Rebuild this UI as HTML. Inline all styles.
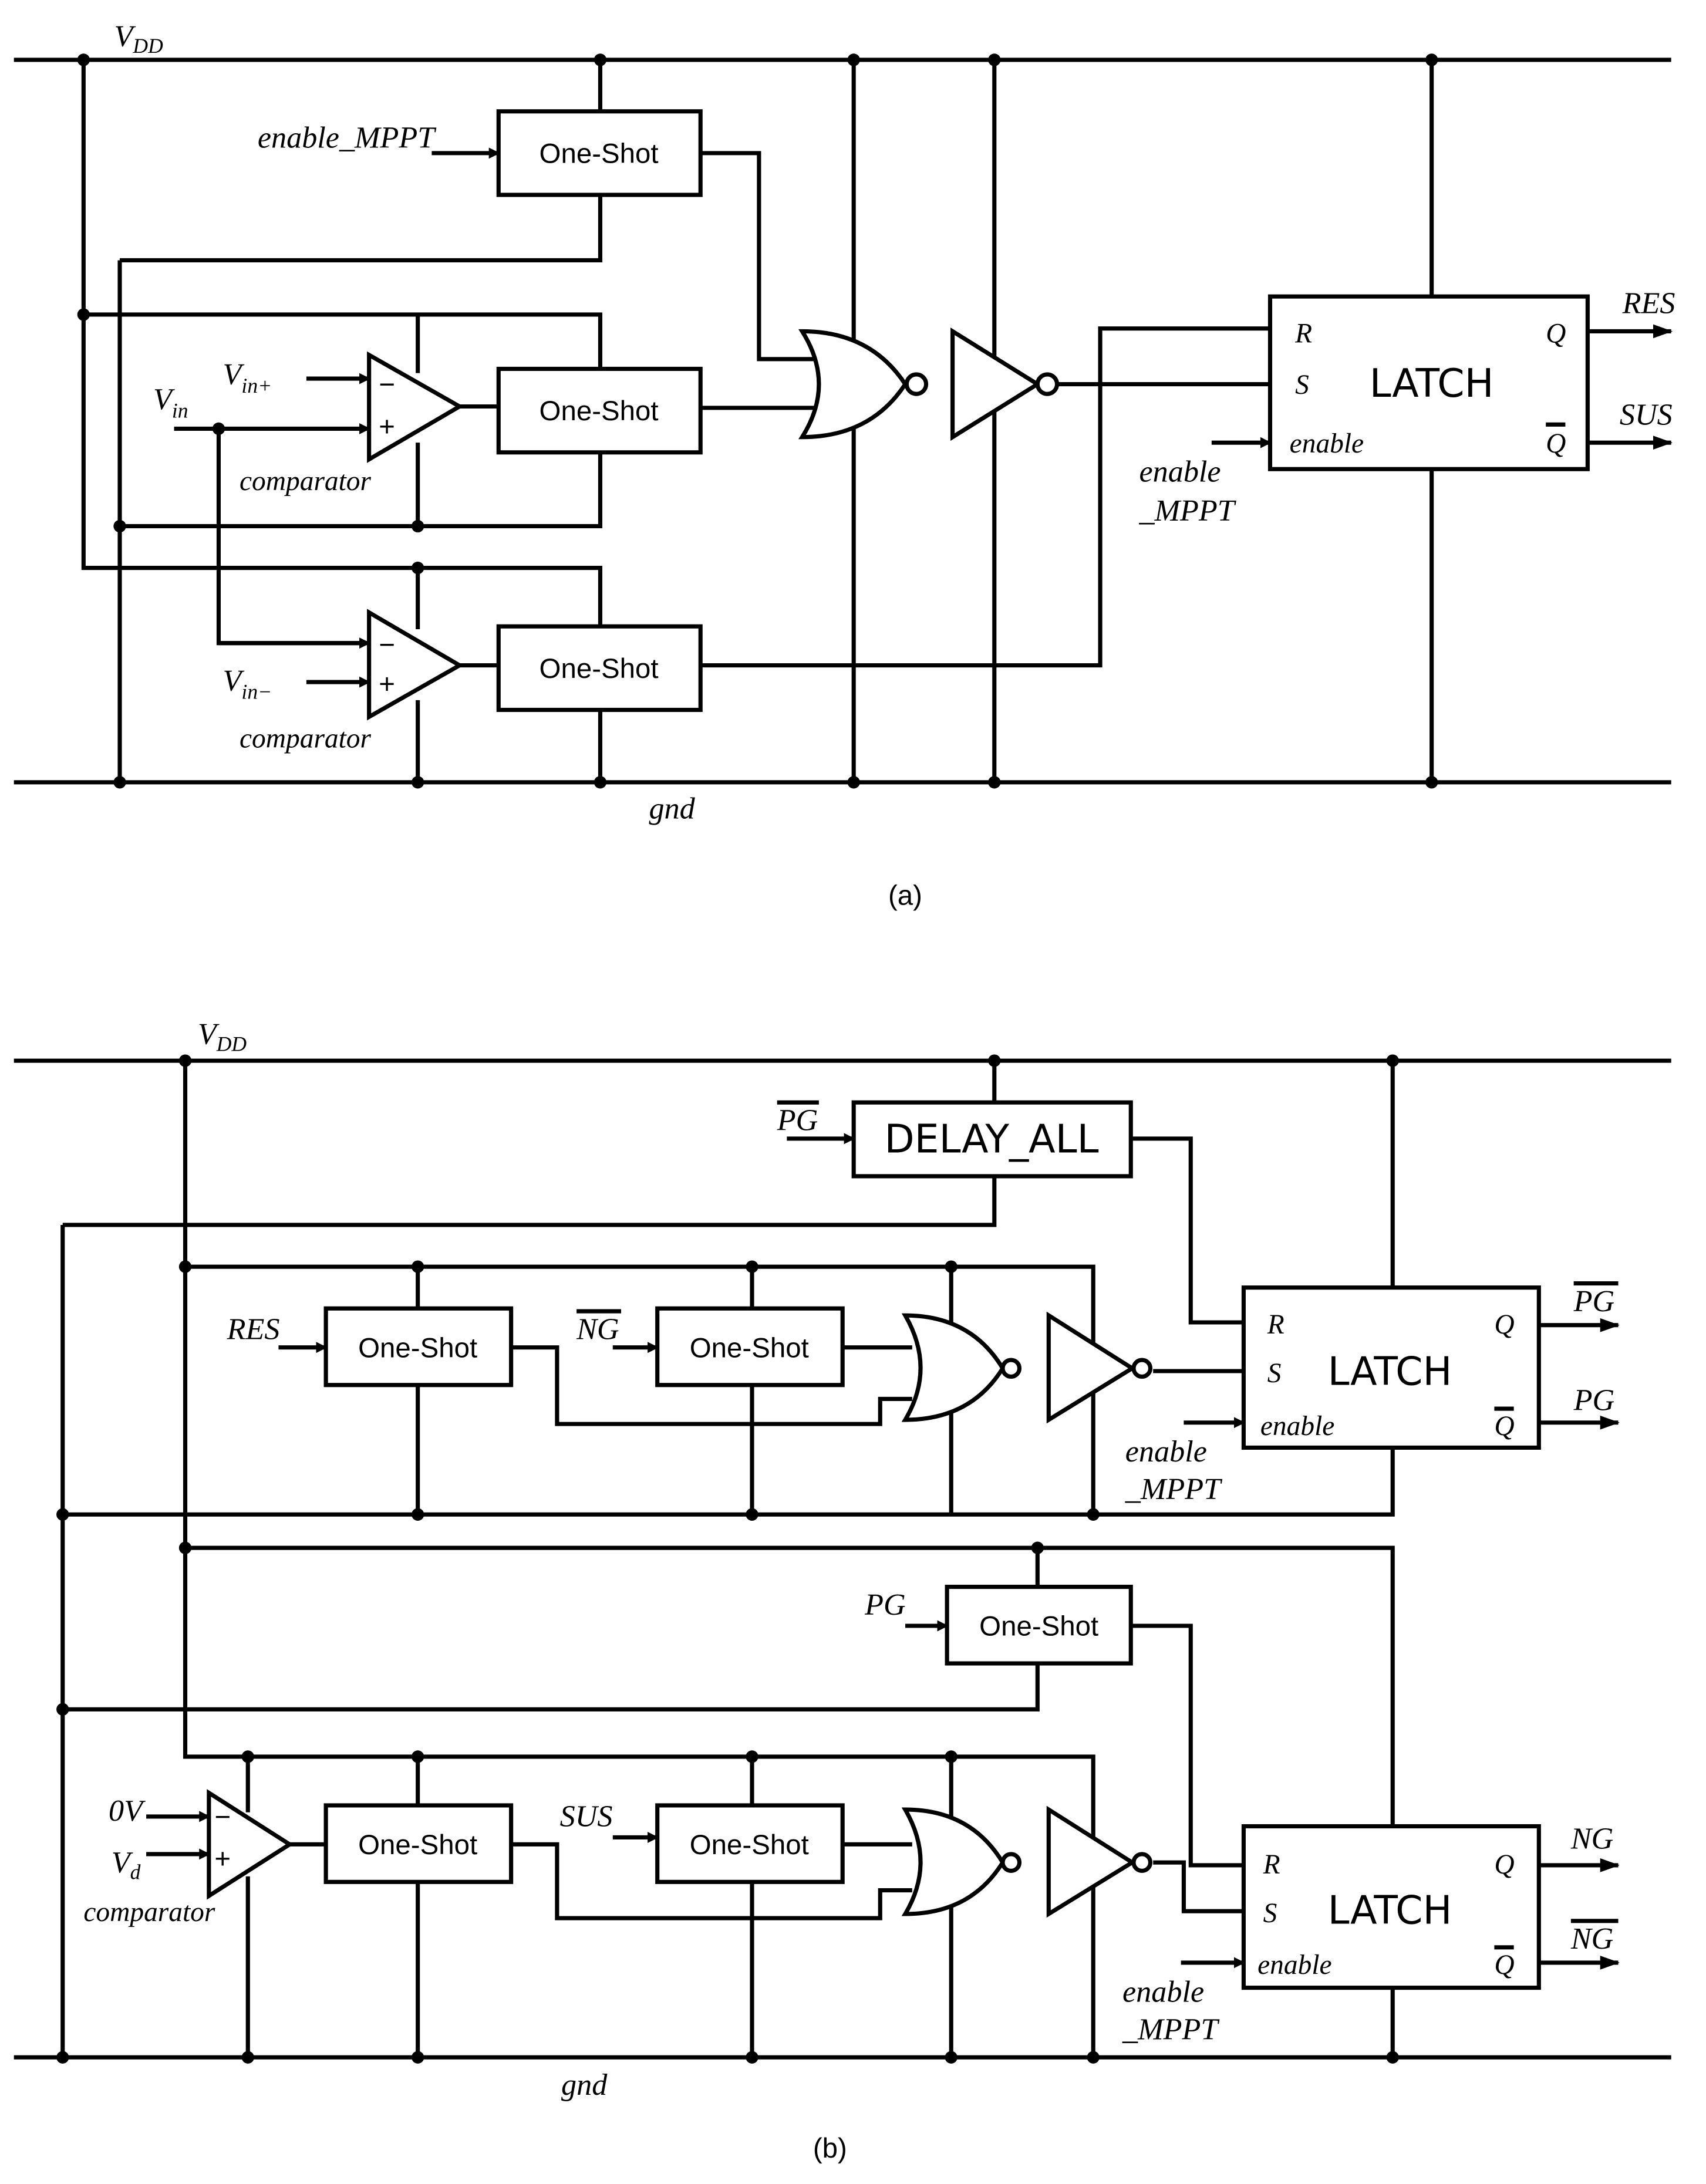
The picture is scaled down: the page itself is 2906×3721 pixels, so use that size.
<!DOCTYPE html>
<html><head><meta charset="utf-8"><style>
html,body{margin:0;padding:0;background:#fff}
svg{display:block}
.l{stroke:#000;stroke-width:3;fill:none}
.b{stroke:#000;stroke-width:3;fill:#fff}
.t{font-family:"Liberation Sans",sans-serif;font-size:20px}
.i{font-family:"Liberation Serif",serif;font-style:italic;font-size:22px}
.s{font-family:"Liberation Serif",serif;font-style:italic;font-size:20px}
.L{font-family:"DejaVu Sans","Liberation Sans",sans-serif;font-size:28px}
</style></head><body>
<svg width="2906" height="3721" viewBox="0 0 1225 1569" preserveAspectRatio="none" xmlns="http://www.w3.org/2000/svg">
<defs><marker id="a" markerWidth="8" markerHeight="8" refX="7" refY="4" orient="auto" markerUnits="userSpaceOnUse"><path d="M0,0 L8,4 L0,8 Z" fill="#000"/></marker>
<marker id="A" markerWidth="14" markerHeight="10" refX="13" refY="5" orient="auto" markerUnits="userSpaceOnUse"><path d="M0,0 L14,5 L0,10 Z" fill="#000"/></marker></defs>

<!-- ===== (a) ===== -->
<path class="l" d="M10,43H1200 M10,562H1200"/>
<text class="i" x="82" y="33">V<tspan font-size="15" dy="5">DD</tspan></text>
<text class="i" x="466" y="588">gnd</text>
<path class="l" d="M60,43V408H431V450 M60,226H431V265 M86,187V562 M86,187H431V140 M431,43V80 M86,378H431V325 M431,510V562 M300,226V268 M300,318V378 M300,408V452 M300,503V562 M157,308V462H265 M613,43V562 M714,43V562 M1028,43V213 M1028,337V562"/>
<path class="l" d="M503,110H545V258H592 M503,293H592 M503,478H790V236H912 M760,276H912 M330,292H358 M330,478H358"/>
<path class="l" marker-end="url(#a)" d="M310,110H358"/>
<path class="l" marker-end="url(#a)" d="M220,272H265"/>
<path class="l" marker-end="url(#a)" d="M125,308H265"/>
<path class="l" marker-end="url(#a)" d="M157,462H265"/>
<path class="l" marker-end="url(#a)" d="M220,490H265"/>
<path class="l" marker-end="url(#a)" d="M870,318H912"/>
<path class="l" marker-end="url(#A)" d="M1140,238H1200"/>
<path class="l" marker-end="url(#A)" d="M1140,318H1200"/>
<rect class="b" x="358" y="80" width="145" height="60"/><text class="t" x="430" y="117" text-anchor="middle">One-Shot</text>
<rect class="b" x="358" y="265" width="145" height="60"/><text class="t" x="430" y="302" text-anchor="middle">One-Shot</text>
<rect class="b" x="358" y="450" width="145" height="60"/><text class="t" x="430" y="487" text-anchor="middle">One-Shot</text>
<path class="b" d="M265,255L265,330L330,292Z"/><path class="b" d="M265,440L265,515L330,478Z"/>
<text class="t" x="272" y="283" font-size="18">−</text><text class="t" x="272" y="313" font-size="18">+</text>
<text class="t" x="272" y="470" font-size="18">−</text><text class="t" x="272" y="498" font-size="18">+</text>
<path class="b" d="M576,238Q600,276 576,314Q625,314 650,276Q625,238 576,238Z"/><circle class="b" cx="658" cy="276" r="7"/>
<path class="b" d="M684,238L684,314L745,276Z"/><circle class="b" cx="752" cy="276" r="7"/>
<rect class="b" x="912" y="213" width="228" height="124"/>
<text class="s" x="930" y="246">R</text><text class="s" x="930" y="283">S</text><text class="s" x="926" y="325">enable</text>
<text class="L" x="1028" y="285" text-anchor="middle">LATCH</text>
<text class="s" x="1110" y="246">Q</text><text class="s" x="1110" y="325">Q</text><path class="l" stroke-width="1.5" d="M1110,305H1124"/>
<text class="i" x="185" y="106">enable_MPPT</text>
<text class="i" x="160" y="276">V<tspan font-size="15" dy="6">in+</tspan></text>
<text class="i" x="110" y="294">V<tspan font-size="15" dy="6">in</tspan></text>
<text class="i" x="160" y="496">V<tspan font-size="15" dy="6">in−</tspan></text>
<text class="s" x="172" y="352">comparator</text><text class="s" x="172" y="537">comparator</text>
<text class="i" x="818" y="346">enable</text><text class="i" x="818" y="374">_MPPT</text>
<text class="i" x="1165" y="225">RES</text><text class="i" x="1163" y="305">SUS</text>
<text class="t" x="650" y="650" text-anchor="middle" font-size="30">(a)</text>
<g fill="#000">
<circle cx="60" cy="43" r="4.5"/><circle cx="431" cy="43" r="4.5"/><circle cx="613" cy="43" r="4.5"/><circle cx="714" cy="43" r="4.5"/><circle cx="1028" cy="43" r="4.5"/>
<circle cx="60" cy="226" r="4.5"/><circle cx="86" cy="378" r="4.5"/><circle cx="300" cy="378" r="4.5"/><circle cx="300" cy="408" r="4.5"/><circle cx="157" cy="308" r="4.5"/>
<circle cx="86" cy="562" r="4.5"/><circle cx="300" cy="562" r="4.5"/><circle cx="431" cy="562" r="4.5"/><circle cx="613" cy="562" r="4.5"/><circle cx="714" cy="562" r="4.5"/><circle cx="1028" cy="562" r="4.5"/>
</g>

<!-- ===== (b) ===== -->
<path class="l" d="M10,762H1200 M10,1478H1200"/>
<text class="i" x="142" y="750">V<tspan font-size="15" dy="5">DD</tspan></text>
<text class="i" x="403" y="1505">gnd</text>
<path class="l" d="M133,762V1262H785V1478 M133,910H785V1088 M45,1088H1000V1040 M45,880H714V845 M714,762V792 M45,880V1478 M300,910V1088 M540,910V1088 M683,910V1088 M1000,762V925 M133,1112H1000V1312 M745,1112V1140 M745,1195V1228H45 M178,1262V1302 M178,1348V1478 M300,1262V1478 M540,1262V1478 M683,1262V1478 M1000,1428V1478"/>
<path class="l" d="M812,818H855V950H893 M367,968H400V1023H632V1005H655 M605,968H655 M828,985H893 M812,1168H855V1340H893 M828,1338H850V1373H893 M367,1325H400V1378H632V1358H655 M605,1325H655 M208,1325H234"/>
<path class="l" marker-end="url(#a)" d="M565,818H613"/>
<path class="l" marker-end="url(#a)" d="M200,968H234"/>
<path class="l" marker-end="url(#a)" d="M440,968H472"/>
<path class="l" marker-end="url(#a)" d="M650,1168H680"/>
<path class="l" marker-end="url(#a)" d="M105,1305H150"/>
<path class="l" marker-end="url(#a)" d="M105,1332H150"/>
<path class="l" marker-end="url(#a)" d="M440,1320H472"/>
<path class="l" marker-end="url(#a)" d="M850,1022H893"/>
<path class="l" marker-end="url(#a)" d="M848,1410H893"/>
<path class="l" marker-end="url(#A)" d="M1105,952H1162"/>
<path class="l" marker-end="url(#A)" d="M1105,1022H1162"/>
<path class="l" marker-end="url(#A)" d="M1105,1340H1162"/>
<path class="l" marker-end="url(#A)" d="M1105,1410H1162"/>
<rect class="b" x="613" y="792" width="199" height="53"/><text class="L" x="712" y="828" text-anchor="middle" font-size="26">DELAY_ALL</text>
<rect class="b" x="234" y="940" width="133" height="55"/><text class="t" x="300" y="975" text-anchor="middle">One-Shot</text>
<rect class="b" x="472" y="940" width="133" height="55"/><text class="t" x="538" y="975" text-anchor="middle">One-Shot</text>
<rect class="b" x="680" y="1140" width="132" height="55"/><text class="t" x="746" y="1175" text-anchor="middle">One-Shot</text>
<rect class="b" x="234" y="1297" width="133" height="55"/><text class="t" x="300" y="1332" text-anchor="middle">One-Shot</text>
<rect class="b" x="472" y="1297" width="133" height="55"/><text class="t" x="538" y="1332" text-anchor="middle">One-Shot</text>
<path class="b" d="M650,945Q672,983 650,1020Q697,1020 720,983Q697,945 650,945Z"/><circle class="b" cx="726" cy="983" r="6"/>
<path class="b" d="M753,945L753,1020L813,983Z"/><circle class="b" cx="820" cy="983" r="6"/>
<path class="b" d="M650,1300Q672,1338 650,1375Q697,1375 720,1338Q697,1300 650,1300Z"/><circle class="b" cx="726" cy="1338" r="6"/>
<path class="b" d="M753,1300L753,1375L813,1338Z"/><circle class="b" cx="820" cy="1338" r="6"/>
<path class="b" d="M150,1288L150,1362L208,1325Z"/>
<text class="t" x="154" y="1312" font-size="18">−</text><text class="t" x="154" y="1342" font-size="18">+</text>
<rect class="b" x="893" y="925" width="212" height="115"/>
<text class="s" x="910" y="958">R</text><text class="s" x="910" y="993">S</text><text class="s" x="905" y="1031">enable</text>
<text class="L" x="998" y="995" text-anchor="middle">LATCH</text>
<text class="s" x="1073" y="958">Q</text><text class="s" x="1073" y="1031">Q</text><path class="l" stroke-width="1.5" d="M1073,1012H1087"/>
<rect class="b" x="893" y="1312" width="212" height="116"/>
<text class="s" x="907" y="1346">R</text><text class="s" x="907" y="1381">S</text><text class="s" x="903" y="1418">enable</text>
<text class="L" x="998" y="1382" text-anchor="middle">LATCH</text>
<text class="s" x="1073" y="1346">Q</text><text class="s" x="1073" y="1418">Q</text><path class="l" stroke-width="1.5" d="M1073,1399H1087"/>
<text class="i" x="558" y="812">PG</text><path class="l" stroke-width="1.5" d="M558,792H588"/>
<text class="i" x="163" y="962">RES</text>
<text class="i" x="414" y="962">NG</text><path class="l" stroke-width="1.5" d="M414,942H446"/>
<text class="i" x="621" y="1160">PG</text>
<text class="i" x="402" y="1312">SUS</text>
<text class="i" x="78" y="1308">0V</text>
<text class="i" x="80" y="1345">V<tspan font-size="15" dy="5">d</tspan></text>
<text class="s" x="60" y="1380">comparator</text>
<text class="i" x="808" y="1050">enable</text><text class="i" x="808" y="1077">_MPPT</text>
<text class="i" x="806" y="1438">enable</text><text class="i" x="806" y="1465">_MPPT</text>
<text class="i" x="1130" y="942">PG</text><path class="l" stroke-width="1.5" d="M1130,922H1162"/>
<text class="i" x="1130" y="1013">PG</text>
<text class="i" x="1128" y="1328">NG</text>
<text class="i" x="1128" y="1400">NG</text><path class="l" stroke-width="1.5" d="M1128,1380H1162"/>
<text class="t" x="596" y="1550" text-anchor="middle" font-size="30">(b)</text>
<g fill="#000">
<circle cx="133" cy="762" r="4.5"/><circle cx="714" cy="762" r="4.5"/><circle cx="1000" cy="762" r="4.5"/>
<circle cx="133" cy="910" r="4.5"/><circle cx="300" cy="910" r="4.5"/><circle cx="540" cy="910" r="4.5"/><circle cx="683" cy="910" r="4.5"/>
<circle cx="45" cy="1088" r="4.5"/><circle cx="300" cy="1088" r="4.5"/><circle cx="540" cy="1088" r="4.5"/><circle cx="785" cy="1088" r="4.5"/>
<circle cx="133" cy="1112" r="4.5"/><circle cx="745" cy="1112" r="4.5"/><circle cx="45" cy="1228" r="4.5"/>
<circle cx="178" cy="1262" r="4.5"/><circle cx="300" cy="1262" r="4.5"/><circle cx="540" cy="1262" r="4.5"/><circle cx="683" cy="1262" r="4.5"/>
<circle cx="45" cy="1478" r="4.5"/><circle cx="178" cy="1478" r="4.5"/><circle cx="300" cy="1478" r="4.5"/><circle cx="540" cy="1478" r="4.5"/><circle cx="683" cy="1478" r="4.5"/><circle cx="785" cy="1478" r="4.5"/><circle cx="1000" cy="1478" r="4.5"/>
</g>
</svg>
</body></html>
